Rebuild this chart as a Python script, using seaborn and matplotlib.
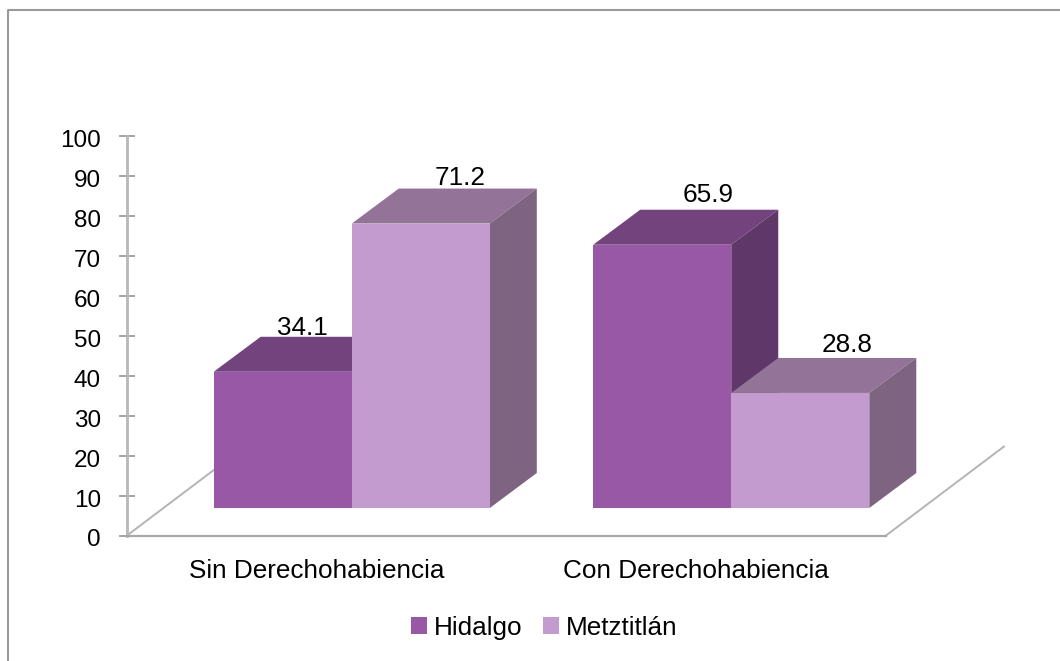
import matplotlib.pyplot as plt
import pandas as pd
import seaborn as sns
from matplotlib.lines import Line2D
from matplotlib.patches import Polygon
from matplotlib.transforms import ScaledTranslation

categories = ['Sin Derechohabiencia', 'Con Derechohabiencia']
series = ['Hidalgo', 'Metztitlán']
hidalgo = [34.1, 65.9]
metztitlan = [71.2, 28.8]
y_ticks = list(range(0, 101, 10))

W, H = 1060, 661
front = ['#9958A5', '#C39BCF']
top = ['#72437C', '#937498']
side = ['#5F3869', '#7E6480']
# where each value label sits relative to its bar centre / back edge, in pixels
label_shift_x = [[20, 46], [39.5, 47]]
label_shift_y = [[1.5, 7.5], [3.5, 5.5]]

plt.rcParams['font.family'] = ['Liberation Sans', 'DejaVu Sans']
plt.rcParams['font.size'] = 18.8

df = pd.DataFrame({
    'categoria': categories * 2,
    'serie': [series[0]] * 2 + [series[1]] * 2,
    'valor': hidalgo + metztitlan,
})


def px_rect(left, right, bottom, upper):
    return [left / W, 1 - bottom / H, (right - left) / W, (bottom - upper) / H]


fig = plt.figure(figsize=(W / 100, H / 100), dpi=100)

# outer frame, open to the right and the bottom of the image
fig.add_artist(Line2D([8 / W, 8 / W, 1], [0, 1 - 10 / H, 1 - 10 / H], color='#9A9A9A', lw=1.5))

# axis box
ax = fig.add_axes(px_rect(127, 886, 535.5, 136))
ax.set_xlim(-0.5, 1.5)
ax.set_ylim(0, 100)
ax.set_xticks([0, 1], categories)
ax.set_yticks(y_ticks)
ax.tick_params(axis='x', length=0, pad=17)
ax.tick_params(axis='y', direction='inout', length=11.5, width=1.1, color='#8C8C8C', pad=13, labelsize=17.5)
down = ScaledTranslation(0, -2.5 / 72 * 0.72, fig.dpi_scale_trans)
for label in ax.get_yticklabels():
    label.set_transform(label.get_transform() + down)
sns.despine(ax=ax, top=True, right=True)
ax.spines['left'].set(color='#B8B8B8', lw=2)
ax.spines['bottom'].set(color='#A8A8A8', lw=1.6)

# floor diagonals
ax.plot([0, 118 / 759], [0, 89 / 399.5], transform=ax.transAxes, color='#B4B4B4', lw=1.4, clip_on=False)
ax.plot([1, 1 + 118 / 759], [0, 89 / 399.5], transform=ax.transAxes, color='#B4B4B4', lw=1.4, clip_on=False)

# bars sit on the floor, so their axes is the same scale moved back
bars_ax = fig.add_axes(px_rect(162, 921, 508, 108.5))
bars_ax.patch.set_alpha(0)
sns.barplot(
    data=df, x='categoria', y='valor', hue='serie', order=categories, hue_order=series,
    palette=front, width=0.7275, gap=0, saturation=1, ax=bars_ax,
)
bars_ax.set_xlim(-0.5, 1.5)
bars_ax.set_ylim(0, 100)
bars_ax.axis('off')

dx = 47 / 379.5
dy = 35 / 3.995
for s, container in enumerate(bars_ax.containers):
    for c, bar in enumerate(container):
        x0, x1 = bar.get_x(), bar.get_x() + bar.get_width()
        h = bar.get_height()
        z = 2 + 2 * s
        bar.set_zorder(z + 1)
        bars_ax.add_patch(Polygon([(x0, h), (x1, h), (x1 + dx, h + dy), (x0 + dx, h + dy)],
                                  color=top[s], lw=0, zorder=z, clip_on=False))
        bars_ax.add_patch(Polygon([(x1, 0), (x1 + dx, dy), (x1 + dx, h + dy), (x1, h)],
                                  color=side[s], lw=0, zorder=z, clip_on=False))
        bars_ax.annotate(f'{h:.1f}', xy=((x0 + x1) / 2, h + dy),
                         xytext=(label_shift_x[s][c] * 0.72, label_shift_y[s][c] * 0.72),
                         textcoords='offset points', ha='center', va='baseline', zorder=10,
                         annotation_clip=False)

sns.move_legend(
    bars_ax, 'center', bbox_to_anchor=(544 / W, 1 - 628 / H), bbox_transform=fig.transFigure,
    ncol=2, frameon=False, title=None, fontsize=18.8, handlelength=0.62, handleheight=0.62,
    handletextpad=0.25, columnspacing=0.8,
)

fig.savefig('out.png', dpi=100)
